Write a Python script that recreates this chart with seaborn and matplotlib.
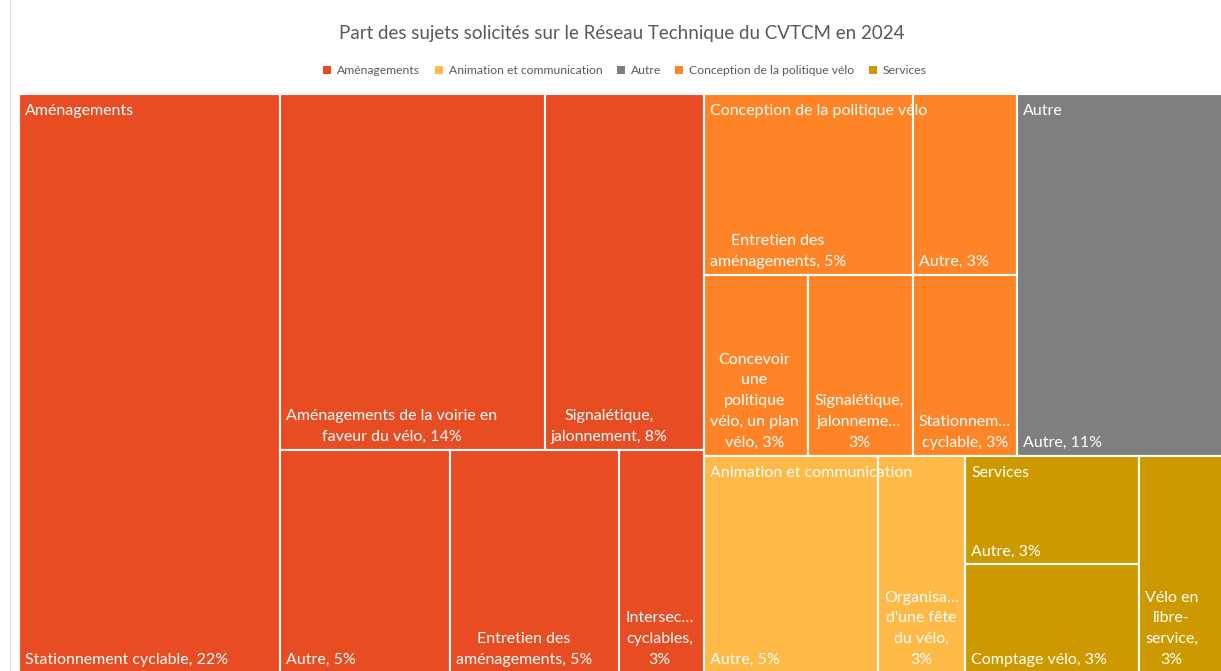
import numpy as np
import matplotlib
matplotlib.use("Agg")
import matplotlib.pyplot as plt
import seaborn as sns
from matplotlib.patches import Rectangle, Patch
from matplotlib.lines import Line2D

# Groups (legend order) and their colours
groups = ["Aménagements", "Animation et communication", "Autre",
          "Conception de la politique vélo", "Services"]
group_colors = ["#E84C22", "#FFB946", "#7F7F7F", "#FF8427", "#CC9A00"]

# Leaf labels as displayed in the chart ({} = percentage) and counts
amenagements_labels = ["Stationnement cyclable, {}%",
                       "Aménagements de la voirie en\nfaveur du vélo, {}%",
                       "Signalétique,\njalonnement, {}%",
                       "Autre, {}%",
                       "Entretien des\naménagements, {}%",
                       "Intersec…\ncyclables,\n{}%"]
amenagements_counts = [8, 5, 3, 2, 2, 1]

animation_labels = ["Autre, {}%", "Organisa…\nd'une fête\ndu vélo,\n{}%"]
animation_counts = [2, 1]

autre_labels = ["Autre, {}%"]
autre_counts = [4]

conception_labels = ["Entretien des\naménagements, {}%",
                     "Autre, {}%",
                     "Concevoir\nune\npolitique\nvélo, un plan\nvélo, {}%",
                     "Signalétique,\njalonneme…\n{}%",
                     "Stationnem…\ncyclable, {}%"]
conception_counts = [2, 1, 1, 1, 1]

services_labels = ["Autre, {}%", "Comptage vélo, {}%", "Vélo en\nlibre-\nservice,\n{}%"]
services_counts = [1, 1, 1]

leaf_labels = [amenagements_labels, animation_labels, autre_labels,
               conception_labels, services_labels]
leaf_counts = [amenagements_counts, animation_counts, autre_counts,
               conception_counts, services_counts]

total = sum(sum(c) for c in leaf_counts)


def squarify(values, x, y, w, h, target=0.87):
    """Squarified layout aiming at cells slightly taller than wide."""
    rects = []
    remaining = float(sum(values))
    i = 0
    while i < len(values):
        vertical = w >= h

        def sizes(row):
            s = sum(row)
            if vertical:
                cw = w * s / remaining
                return [(cw, h * v / s) for v in row]
            rh = h * s / remaining
            return [(w * v / s, rh) for v in row]

        def score(row):
            return max(abs(np.log((rw / rh) / target)) for rw, rh in sizes(row))

        j = i + 1
        best = score(values[i:j])
        while j < len(values):
            new = score(values[i:j + 1])
            if new > best:
                break
            best = new
            j += 1
        row = values[i:j]
        s = sum(row)
        if vertical:
            cw = w * s / remaining
            yy = y
            for v in row:
                rh = h * v / s
                rects.append((x, yy, cw, rh))
                yy += rh
            x += cw
            w -= cw
        else:
            rh = h * s / remaining
            xx = x
            for v in row:
                rw = w * v / s
                rects.append((xx, y, rw, rh))
                xx += rw
            y += rh
            h -= rh
        remaining -= s
        i = j
    return rects


sns.set_theme(style="white")
plt.rcParams["font.family"] = ["Lato", "DejaVu Sans"]

W, H = 1207.0, 579.0
fig = plt.figure(figsize=(12.21, 6.71), dpi=100)
ax = fig.add_axes([19 / 1221, (671 - 94 - H) / 671, W / 1221, H / 671])
ax.set_xlim(0, W)
ax.set_ylim(H, 0)
ax.axis("off")

# sort groups by size (stable), leaves likewise
group_sums = [sum(c) for c in leaf_counts]
order = sorted(range(len(groups)), key=lambda k: -group_sums[k])
group_rects = squarify([group_sums[k] for k in order], 0, 0, W, H)

for k, (gx, gy, gw, gh) in zip(order, group_rects):
    counts = leaf_counts[k]
    lorder = sorted(range(len(counts)), key=lambda m: -counts[m])
    cells = squarify([counts[m] for m in lorder], gx, gy, gw, gh)
    for m, (cx, cy, cw, ch) in zip(lorder, cells):
        ax.add_patch(Rectangle((cx, cy), cw, ch, facecolor=group_colors[k],
                               edgecolor="white", linewidth=1.5))
        pct = round(100 * counts[m] / total)
        ax.text(cx + 6, cy + ch - 6, leaf_labels[k][m].format(pct),
                ha="left", va="bottom", multialignment="center",
                color="white", fontsize=11.5, linespacing=1.62)
    ax.text(gx + 6, gy + 10, groups[k], ha="left", va="top",
            color="white", fontsize=11.5)

fig.text(622 / 1221, 1 - 33 / 671,
         "Part des sujets solicités sur le Réseau Technique du CVTCM en 2024",
         ha="center", va="center", fontsize=13.5, color="#595959")

handles = [Patch(facecolor=c, edgecolor="none") for c in group_colors]
fig.legend(handles, groups, loc="center", bbox_to_anchor=(625 / 1221, 1 - 71 / 671),
           ncol=5, frameon=False, fontsize=8.7, labelcolor="#595959",
           handlelength=0.65, handleheight=0.65, handletextpad=0.5,
           columnspacing=1.2)

fig.add_artist(Line2D([10 / 1221, 10 / 1221], [0, 1], color="#D9D9D9", linewidth=1))

fig.savefig("out.png", dpi=100)
